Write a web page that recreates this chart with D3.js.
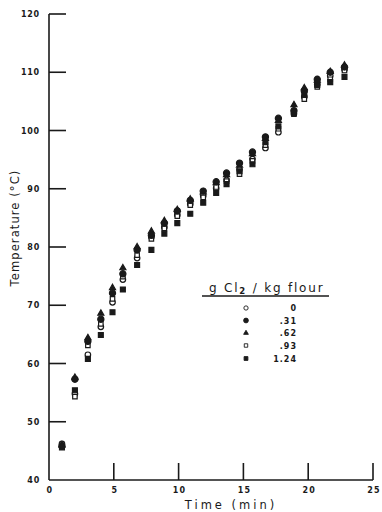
<!DOCTYPE html>
<html>
<head>
<meta charset="utf-8">
<script src="https://cdn.jsdelivr.net/npm/d3@7"></script>
<style>
  html, body { margin: 0; padding: 0; background: #ffffff; }
  svg { display: block; }
  text { font-family: "DejaVu Sans", sans-serif; fill: #1a1a1a; }
</style>
</head>
<body>
<svg id="chart" width="382" height="512"></svg>
<script>
// ---- data ----
const times = [1.0, 2.0, 3.0, 4.0, 4.9, 5.7, 6.8, 7.9, 8.9, 9.9, 10.9, 11.9, 12.9, 13.7, 14.7, 15.7, 16.7, 17.7, 18.9, 19.7, 20.7, 21.7, 22.8];
const cl0    = [46.2, 54.8, 61.5, 66.3, 70.5, 74.4, 78.1, 81.7, 83.4, 85.5, 87.4, 88.8, 90.1, 91.5, 93.3, 95.1, 97.0, 99.7, 102.9, 105.8, 107.9, 109.4, 110.5];
const cl031  = [45.8, 57.3, 63.8, 67.6, 72.1, 75.4, 79.5, 82.0, 84.1, 86.2, 88.0, 89.6, 91.2, 92.7, 94.4, 96.3, 98.9, 102.1, 103.4, 106.8, 108.8, 110.0, 110.9];
const cl062  = [46.0, 57.6, 64.4, 68.6, 73.0, 76.4, 80.0, 82.7, 84.5, 86.4, 88.2, 89.4, 91.0, 92.4, 94.0, 96.0, 98.6, 101.7, 104.4, 107.3, 108.6, 110.1, 111.2];
const cl093  = [46.0, 54.3, 63.1, 66.8, 71.1, 74.9, 78.6, 81.4, 83.2, 85.3, 87.2, 88.5, 90.3, 91.3, 92.5, 94.8, 97.5, 100.3, 102.8, 105.4, 107.5, 108.8, 110.3];
const cl124  = [45.6, 55.4, 60.8, 64.9, 68.8, 72.7, 76.9, 79.5, 82.3, 84.1, 85.7, 87.6, 89.3, 90.8, 93.0, 94.2, 98.0, 100.7, 103.0, 106.1, 107.8, 108.3, 109.2];
const seriesLabels = ["0", ".31", ".62", ".93", "1.24"];
const xTicks = [0, 5, 10, 15, 20, 25];
const yTicks = [40, 50, 60, 70, 80, 90, 100, 110, 120];

const svg = d3.select("#chart");
const x = d3.scaleLinear().domain([0, 25]).range([49, 373]);
const y = d3.scaleLinear().domain([40, 120]).range([480, 14]);

// axes lines
const axis = svg.append("g");
axis.append("line").attr("x1", x(0)).attr("x2", x(0)).attr("y1", y(120)).attr("y2", y(40))
  .attr("stroke", "#1a1a1a").attr("stroke-width", 1.6);
axis.append("line").attr("x1", x(0)).attr("x2", x(25)).attr("y1", y(40)).attr("y2", y(40))
  .attr("stroke", "#1a1a1a").attr("stroke-width", 1.6);

// y ticks (inward)
yTicks.forEach(v => {
  if (v !== 40) {
    axis.append("line").attr("x1", x(0)).attr("x2", x(0) + 17).attr("y1", y(v)).attr("y2", y(v))
      .attr("stroke", "#1a1a1a").attr("stroke-width", 1.6);
  }
  axis.append("text").attr("x", x(0) - 9).attr("y", y(v) + 3)
    .attr("text-anchor", "end").attr("font-size", 8).attr("font-weight", "bold")
    .attr("letter-spacing", 0.8).text(v);
});
// x ticks (inward)
xTicks.forEach(v => {
  if (v !== 0) {
    axis.append("line").attr("x1", x(v)).attr("x2", x(v)).attr("y1", y(40)).attr("y2", y(40) - 17)
      .attr("stroke", "#1a1a1a").attr("stroke-width", 1.6);
  }
  axis.append("text").attr("x", x(v) + 1).attr("y", y(40) + 13)
    .attr("text-anchor", "middle").attr("font-size", 8).attr("font-weight", "bold")
    .attr("letter-spacing", 1.2).text(v);
});

// axis titles
svg.append("text").attr("transform", "translate(19,228) rotate(-90)")
  .attr("text-anchor", "middle").attr("font-size", 11.5).attr("letter-spacing", 1.1)
  .text("Temperature  (°C)");
svg.append("text").attr("x", 231).attr("y", 509)
  .attr("text-anchor", "middle").attr("font-size", 11.5).attr("letter-spacing", 3)
  .text("Time  (min)");

// symbols
const symDefs = [
  { type: d3.symbolCircle, size: 24, fill: "#ffffff", stroke: "#1a1a1a" },
  { type: d3.symbolCircle, size: 30, fill: "#1a1a1a", stroke: "#1a1a1a" },
  { type: d3.symbolTriangle, size: 16, fill: "#1a1a1a", stroke: "#1a1a1a" },
  { type: d3.symbolSquare, size: 20, fill: "#ffffff", stroke: "#1a1a1a" },
  { type: d3.symbolSquare, size: 24, fill: "#1a1a1a", stroke: "#1a1a1a" }
];
const allSeries = [cl0, cl031, cl062, cl093, cl124];
const drawOrder = [0, 3, 4, 2, 1];

const pts = svg.append("g");
drawOrder.forEach(si => {
  const d = symDefs[si];
  pts.selectAll(null).data(times.map((t, i) => [t, allSeries[si][i]])).enter()
    .append("path")
    .attr("transform", p => `translate(${x(p[0])},${y(p[1])})`)
    .attr("d", d3.symbol().type(d.type).size(d.size))
    .attr("fill", d.fill).attr("stroke", d.stroke).attr("stroke-width", 1.2);
});

// legend
const lg = svg.append("g");
const title = lg.append("text").attr("x", 209).attr("y", 292).attr("font-size", 12).attr("letter-spacing", 1.8);
title.append("tspan").text("g  Cl");
title.append("tspan").attr("font-size", 8.5).attr("dy", 2).attr("font-weight", "bold").text("2");
title.append("tspan").attr("dy", -2).text(" /  kg  flour");
lg.append("line").attr("x1", 202).attr("x2", 329).attr("y1", 296).attr("y2", 296)
  .attr("stroke", "#1a1a1a").attr("stroke-width", 1.6);
const rowY = [308, 320.5, 333, 345.5, 358.5];
seriesLabels.forEach((lab, i) => {
  const d = symDefs[i];
  lg.append("path").attr("transform", `translate(246,${rowY[i]})`)
    .attr("d", d3.symbol().type(d.type).size(d.size * 0.6))
    .attr("fill", d.fill).attr("stroke", d.stroke).attr("stroke-width", 0.9);
  lg.append("text").attr("x", 297).attr("y", rowY[i] + 3)
    .attr("text-anchor", "end").attr("font-size", 8).attr("font-weight", "bold")
    .attr("letter-spacing", 1).text(lab);
});
</script>
</body>
</html>
